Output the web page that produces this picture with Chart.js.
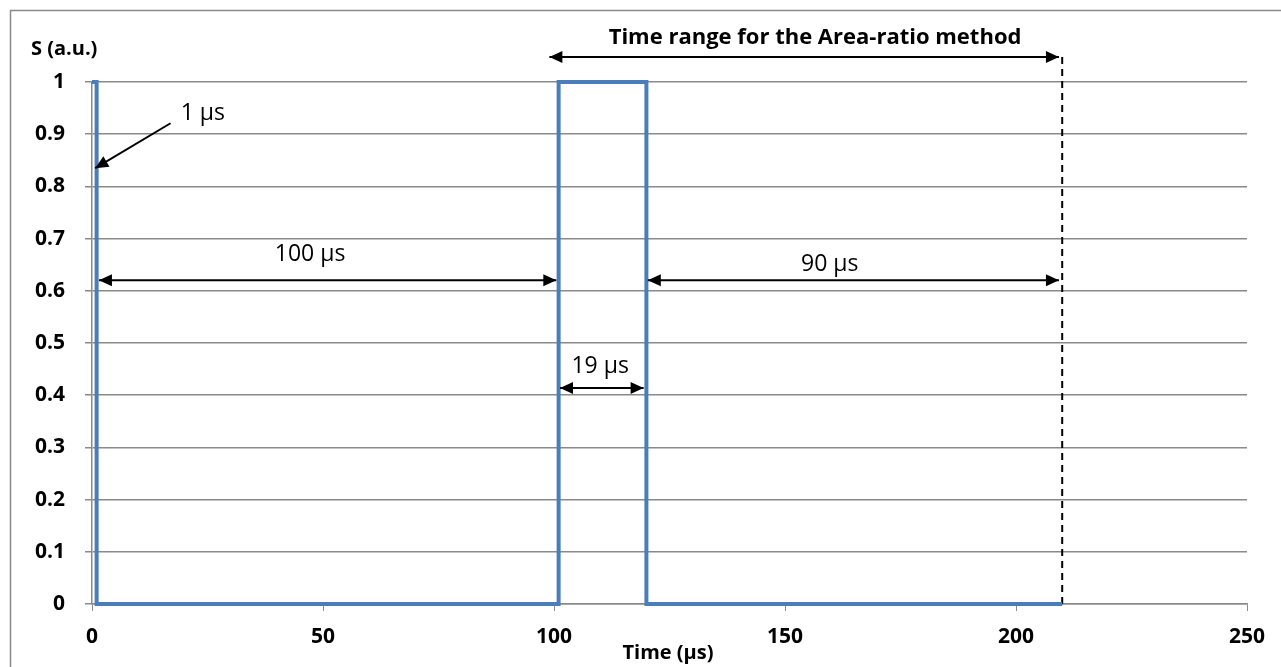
<!DOCTYPE html>
<html>
<head>
<meta charset="utf-8">
<script src="https://cdn.jsdelivr.net/npm/chart.js@4/dist/chart.umd.min.js"></script>
<style>
  body { margin: 0; background: #fff; }
</style>
</head>
<body>
<canvas id="chart" width="1281" height="667"></canvas>
<script>
// pulse signal, time in µs
const timeUs = [0, 1, 1, 101, 101, 120, 120, 210]
const signal = [1, 1, 0, 0, 1, 1, 0, 0]
// dashed marker at the end of the area-ratio range
const rangeEndX = [210, 210]
const rangeEndY = [0, 1.052]
const yTickLabels = ['0', '0.1', '0.2', '0.3', '0.4', '0.5', '0.6', '0.7', '0.8', '0.9', '1']

// arrows: x1, y1, x2, y2, head at both ends
const arrows = [
  [17, 0.921, 0.7, 0.835, false],
  [1.5, 0.62, 100.5, 0.62, true],
  [120.3, 0.62, 209.3, 0.62, true],
  [101.3, 0.414, 119.4, 0.414, true],
  [99, 1.048, 209.3, 1.048, true],
]
// text labels: text, x, y, bold
const notes = [
  ['1 µs', 24, 0.94, false],
  ['100 µs', 47.2, 0.67, false],
  ['90 µs', 159.7, 0.65, false],
  ['19 µs', 110, 0.456, false],
  ['Time range for the Area-ratio method', 156.5, 1.084, true],
]

const FONT = "'Open Sans', sans-serif"
const GRID = '#8a8a8a'

function arrowHead(ctx, fromX, fromY, toX, toY) {
  const a = Math.atan2(toY - fromY, toX - fromX)
  const len = 13
  const half = 6
  ctx.beginPath()
  ctx.moveTo(toX, toY)
  ctx.lineTo(toX - len * Math.cos(a) + half * Math.sin(a), toY - len * Math.sin(a) - half * Math.cos(a))
  ctx.lineTo(toX - len * Math.cos(a) - half * Math.sin(a), toY - len * Math.sin(a) + half * Math.cos(a))
  ctx.closePath()
  ctx.fill()
}

const annotations = {
  id: 'annotations',
  afterDraw(chart) {
    const { ctx, scales: { x, y } } = chart
    ctx.save()
    // outer frame
    ctx.strokeStyle = GRID
    ctx.lineWidth = 1.5
    ctx.strokeRect(10.5, 10.5, 1300, 700)

    ctx.strokeStyle = '#000'
    ctx.fillStyle = '#000'
    ctx.lineWidth = 2
    arrows.forEach(([x1, y1, x2, y2, both]) => {
      const px1 = x.getPixelForValue(x1)
      const py1 = y.getPixelForValue(y1)
      const px2 = x.getPixelForValue(x2)
      const py2 = y.getPixelForValue(y2)
      ctx.beginPath()
      ctx.moveTo(px1, py1)
      ctx.lineTo(px2, py2)
      ctx.stroke()
      arrowHead(ctx, px1, py1, px2, py2)
      if (both) arrowHead(ctx, px2, py2, px1, py1)
    })

    ctx.textAlign = 'center'
    ctx.textBaseline = 'middle'
    notes.forEach(([text, tx, ty, bold]) => {
      ctx.font = `${bold ? '600 22px' : '23px'} ${FONT}`
      if (bold) ctx.font = `bold 22px ${FONT}`
      ctx.fillText(text, x.getPixelForValue(tx), y.getPixelForValue(ty))
    })

    // axis titles
    ctx.font = `bold 20px ${FONT}`
    ctx.textAlign = 'left'
    ctx.fillText('S (a.u.)', 31, 49)
    ctx.textAlign = 'center'
    ctx.fillText('Time (µs)', 668, 653)
    ctx.restore()
  },
}

new Chart(document.getElementById('chart'), {
  type: 'scatter',
  data: {
    datasets: [
      {
        data: timeUs.map((t, i) => ({ x: t, y: signal[i] })),
        showLine: true,
        borderColor: '#4a7ebb',
        borderWidth: 4,
        pointRadius: 0,
        clip: false,
        borderJoinStyle: 'miter',
      },
      {
        data: rangeEndX.map((t, i) => ({ x: t, y: rangeEndY[i] })),
        showLine: true,
        borderColor: '#000',
        borderWidth: 2,
        borderDash: [7, 5],
        pointRadius: 0,
        clip: false,
      },
    ],
  },
  options: {
    responsive: false,
    animation: false,
    layout: { padding: { top: 82, right: 34, left: 0, bottom: 0 } },
    plugins: { legend: { display: false }, tooltip: { enabled: false } },
    scales: {
      x: {
        type: 'linear',
        min: 0,
        max: 250,
        afterFit: (scale) => { scale.height = 63 },
        ticks: {
          stepSize: 50,
          color: '#000',
          padding: 13,
          font: { family: FONT, size: 21, weight: 'bold' },
        },
        grid: { drawOnChartArea: false, drawTicks: true, tickLength: 7, color: GRID },
        border: { color: GRID, width: 1.5 },
      },
      y: {
        min: 0,
        max: 1,
        afterFit: (scale) => { scale.width = 92 },
        ticks: {
          stepSize: 0.1,
          color: '#000',
          padding: 20,
          font: { family: FONT, size: 21, weight: 'bold' },
          callback: (v, i) => yTickLabels[i],
        },
        grid: { color: GRID, lineWidth: 1.5, tickLength: 7 },
        border: { color: GRID, width: 1.5 },
      },
    },
  },
  plugins: [annotations],
})
</script>
</body>
</html>
